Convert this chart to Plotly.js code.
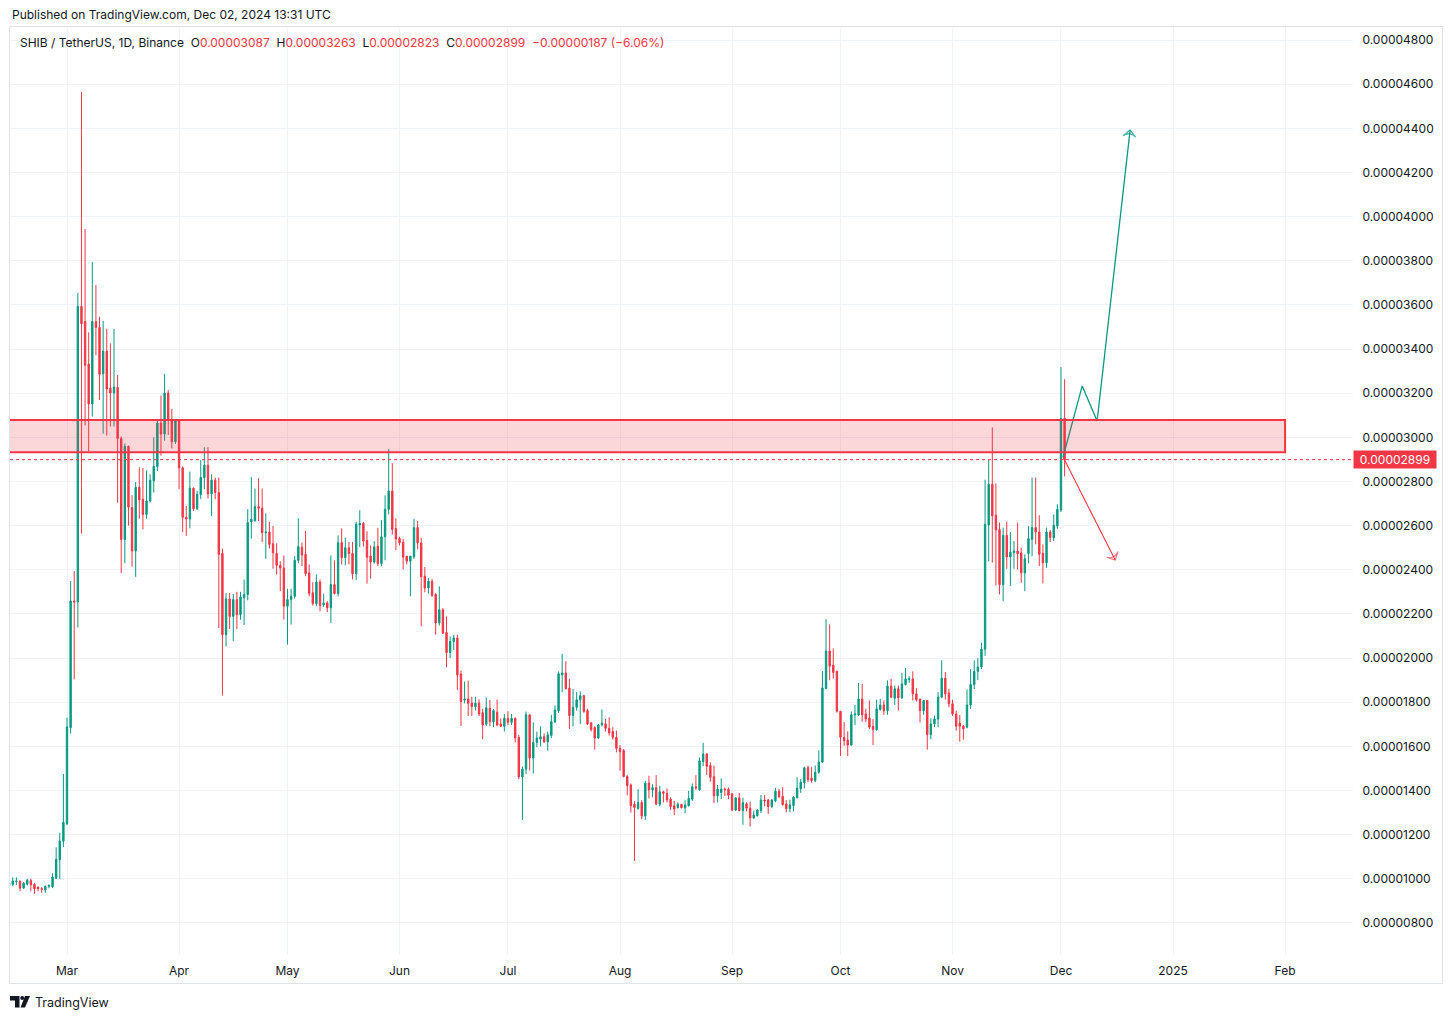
<!DOCTYPE html>
<html>
<head>
<meta charset="utf-8">
<script src="https://cdn.plot.ly/plotly-3.0.1.min.js"></script>
<style>
html,body{margin:0;padding:0;background:#ffffff;}
#chart{width:1453px;height:1019px;}
</style>
</head>
<body>
<div id="chart"></div>
<script>
// SHIB/USDT daily candles, values in units of 0.00000001 USDT, first candle 2024-02-14
const firstDay = [2024, 1, 14]; // year, month index, day (UTC)

const opens = [
  970,975,988,990,958,976,992,975,962,956,950,966,964,1003,1087,1171,
  1250,1685,2259,2254,3593,3525,3332,3151,3525,3498,3288,3390,3223,3201,3226,2995,2537,2959,2682,2485,2773,2720,2651,2712,2803,2868,3065,3015,3201,3076,2980,
  3076,2862,2638,2630,2770,2677,2740,2818,2874,2744,2806,2750,2474,2106,2268,2189,2265,2197,2273,2288,2617,2621,2686,2679,2568,2571,2518,2474,2420,2408,
  2235,2265,2280,2443,2502,2470,2386,2296,2247,2345,2241,2250,2228,2333,2293,2523,2455,2500,2474,2382,2603,2610,2533,2462,2435,2507,2428,2550,2674,2757,2587,
  2542,2525,2462,2439,2459,2591,2522,2371,2318,2348,2288,2159,2219,2116,2025,2075,2091,1928,1810,1815,1797,1780,1796,1753,1700,1773,1712,1755,1702,1691,
  1727,1709,1727,1641,1462,1497,1743,1547,1618,1633,1644,1621,1649,1712,1762,1924,1933,1864,1740,1777,1811,1830,1762,1706,1685,1638,1697,1702,1682,1667,1641,
  1591,1581,1464,1425,1338,1319,1346,1285,1434,1403,1413,1338,1394,1388,1361,1331,1323,1338,1322,1331,1361,1417,1403,1531,1566,1513,1463,1376,1391,1406,1406,
  1385,1312,1367,1309,1340,1320,1276,1286,1309,1357,1357,1327,1354,1397,1374,1339,1317,1332,1367,1408,1435,1503,1456,1445,1483,1529,1862,2032,1968,1941,
  1759,1641,1629,1606,1743,1743,1815,1747,1729,1691,1676,1767,1788,1762,1873,1818,1861,1820,1880,1903,1906,1838,1815,1762,1808,1653,1702,1724,1823,1909,1842,
  1793,1747,1706,1691,1687,1788,1880,1940,1960,2040,2603,2788,2647,2583,2333,2556,2458,2477,2485,2477,2386,2474,2538,2591,2571,2474,2432,2571,2545,2598,
  2671,3087
];
const highs = [
  994,1007,1007,992,985,1000,1000,980,966,962,970,975,1025,1143,1209,1475,
  1730,2349,2394,3654,4564,3944,3476,3794,3690,3546,3528,3492,3426,3492,3282,3004,2972,2963,2738,2798,2864,2861,2851,2833,3000,3080,3189,3288,3215,3129,3083,
  3083,2868,2689,2845,2773,2758,2897,2955,2955,2833,2818,2818,2495,2295,2295,2291,2300,2300,2356,2674,2820,2768,2814,2768,2656,2617,2598,2520,2439,2465,
  2314,2314,2462,2633,2523,2576,2424,2344,2379,2356,2292,2258,2465,2443,2556,2588,2546,2526,2526,2617,2670,2617,2575,2510,2530,2590,2625,2737,2947,2883,2633,
  2550,2540,2462,2462,2631,2621,2545,2413,2363,2359,2295,2325,2227,2189,2098,2106,2106,1944,1894,1898,1825,1825,1813,1770,1821,1811,1770,1812,1727,1746,
  1759,1747,1732,1652,1509,1758,1743,1709,1667,1690,1659,1667,1743,1785,1940,2020,1986,1906,1861,1846,1849,1833,1770,1712,1691,1702,1767,1724,1732,1687,1672,
  1606,1588,1470,1432,1353,1406,1356,1444,1467,1429,1470,1422,1399,1410,1369,1353,1346,1338,1356,1399,1432,1470,1550,1616,1569,1528,1513,1425,1455,1414,1414,
  1388,1367,1389,1367,1347,1350,1309,1317,1380,1380,1362,1362,1412,1408,1415,1357,1359,1374,1460,1453,1509,1514,1506,1514,1582,1941,2176,2153,2044,1941,
  1759,1710,1668,1758,1788,1888,1883,1770,1808,1724,1812,1815,1808,1899,1906,1876,1876,1933,1955,1918,1940,1864,1815,1808,1811,1727,1740,1846,1990,1937,1861,
  1812,1762,1743,1697,1858,1950,1990,2000,2070,2808,2899,3045,2792,2614,2591,2618,2571,2530,2614,2500,2470,2598,2818,2818,2647,2515,2591,2580,2651,2697,
  3318,3263
];
const lows = [
  950,966,972,944,955,970,944,932,944,937,937,957,958,999,1000,1144,
  1244,1658,1904,2139,2564,3054,2938,3094,3372,3169,3017,3008,3049,3049,2704,2385,2430,2600,2414,2368,2632,2583,2632,2705,2750,2848,2917,2985,3011,2950,2970,
  2765,2571,2553,2588,2667,2671,2720,2765,2723,2644,2720,2136,1830,2053,2132,2076,2132,2174,2150,2262,2541,2621,2621,2526,2450,2496,2405,2379,2303,2174,
  2061,2152,2270,2429,2417,2371,2280,2238,2235,2212,2232,2208,2159,2288,2280,2424,2420,2424,2356,2353,2503,2505,2337,2360,2428,2416,2416,2443,2651,2560,2489,
  2510,2401,2424,2280,2450,2492,2144,2298,2292,2277,2106,2147,2109,1959,2000,2037,1856,1692,1795,1738,1738,1762,1738,1633,1692,1691,1687,1691,1690,1667,
  1697,1697,1618,1452,1267,1474,1490,1477,1596,1600,1615,1580,1637,1706,1752,1846,1858,1679,1691,1762,1702,1752,1697,1667,1585,1633,1691,1667,1649,1631,1573,
  1490,1460,1379,1300,1081,1313,1270,1267,1364,1369,1335,1328,1346,1346,1313,1288,1319,1319,1297,1328,1353,1403,1399,1510,1470,1440,1343,1346,1361,1376,1361,
  1306,1308,1306,1245,1306,1236,1271,1283,1298,1329,1294,1321,1347,1365,1332,1301,1301,1306,1367,1389,1410,1438,1435,1438,1476,1526,1859,1900,1907,1753,
  1556,1603,1555,1603,1697,1737,1712,1709,1679,1606,1671,1762,1743,1743,1818,1788,1762,1815,1876,1888,1808,1803,1709,1743,1585,1633,1687,1687,1818,1812,1777,
  1737,1671,1621,1630,1682,1770,1860,1900,1950,2010,2439,2432,2329,2288,2258,2405,2326,2405,2402,2341,2303,2429,2462,2515,2417,2338,2409,2526,2530,2586,
  2662,2823
];
const closes = [
  980,990,990,958,980,994,973,955,955,952,966,970,1008,1089,1171,1256,
  1688,2259,2254,3593,3515,3327,3151,3525,3498,3286,3390,3219,3201,3228,2995,2537,2959,2684,2485,2773,2717,2651,2712,2806,2868,3065,3015,3201,3076,2980,3076,
  2862,2638,2630,2770,2677,2742,2818,2874,2744,2806,2750,2470,2106,2268,2189,2265,2197,2277,2288,2614,2629,2686,2679,2568,2571,2515,2477,2420,2408,2235,
  2265,2280,2443,2505,2467,2383,2293,2247,2345,2238,2250,2228,2333,2293,2523,2455,2500,2474,2382,2606,2610,2530,2457,2435,2504,2428,2550,2674,2757,2583,2540,
  2522,2457,2439,2462,2591,2522,2368,2318,2348,2285,2159,2219,2113,2025,2075,2091,1924,1803,1815,1795,1780,1796,1747,1697,1775,1712,1762,1697,1691,1727,
  1709,1727,1638,1462,1497,1743,1547,1618,1638,1644,1621,1652,1712,1765,1929,1933,1861,1740,1777,1811,1830,1758,1702,1676,1638,1697,1706,1682,1661,1641,1591,
  1576,1464,1422,1331,1323,1346,1285,1434,1403,1413,1338,1394,1388,1358,1328,1316,1338,1322,1334,1364,1417,1412,1535,1566,1510,1460,1376,1406,1406,1403,1379,
  1312,1367,1309,1345,1320,1276,1289,1312,1357,1353,1327,1357,1397,1373,1336,1317,1335,1370,1411,1438,1503,1450,1445,1483,1529,1865,2032,1963,1935,1759,
  1642,1626,1606,1743,1747,1815,1743,1724,1687,1676,1770,1788,1762,1873,1823,1861,1820,1883,1906,1906,1838,1812,1762,1808,1653,1702,1724,1823,1909,1838,1793,
  1747,1691,1691,1680,1788,1880,1940,1960,2040,2606,2788,2644,2580,2333,2556,2458,2480,2485,2473,2386,2450,2541,2591,2571,2470,2432,2571,2545,2602,2674,
  3086,2899
];

// axis ticks
const monthTickDates = ['2024-03-01','2024-04-01','2024-05-01','2024-06-01','2024-07-01','2024-08-01','2024-09-01','2024-10-01','2024-11-01','2024-12-01','2025-01-01','2025-02-01'];
const monthTickLabels = ['Mar','Apr','May','Jun','Jul','Aug','Sep','Oct','Nov','Dec','2025','Feb'];
const priceTicks = [800,1000,1200,1400,1600,1800,2000,2200,2400,2600,2800,3000,3200,3400,3600,3800,4000,4200,4400,4600,4800];

// drawn zone and projection arrows (price units 1e-8)
const zoneStart = '2024-02-01', zoneEnd = '2025-02-01';
const zoneLow = 2932, zoneHigh = 3079;
const upPathDates = ['2024-12-01 14:00','2024-12-06 21:00','2024-12-11 00:00','2024-12-20 03:00'];
const upPathPrices = [2911, 3233, 3074, 4392];
const downPathDates = ['2024-12-01 14:00','2024-12-16 00:00'];
const downPathPrices = [2911, 2444];

const U = 1e-8;
const GREEN = '#089981', RED = '#F23645', TXT = '#131722', GRID = '#f0f3fa', FRAME = '#e0e3eb';
const FONT = 'Inter, "Noto Sans", sans-serif';

const dates = opens.map((_, i) => new Date(Date.UTC(firstDay[0], firstDay[1], firstDay[2] + i)).toISOString().slice(0, 10));

const W = 1453, H = 1019;
const M = {l: 10, r: 100, t: 27, b: 64};
const PW = W - M.l - M.r, PH = H - M.t - M.b;
const px = x => (x - M.l) / PW;
const py = y => (H - M.b - y) / PH;
const fmt = v => (v * U).toFixed(8);

const n = closes.length;
const lastO = opens[n-1], lastH = highs[n-1], lastL = lows[n-1], lastC = closes[n-1];
const chg = lastC - closes[n-2];
const pct = chg / closes[n-2] * 100;
const minus = s => s.replace('-', '\u2212');
const red = s => '<span style="color:' + RED + '">' + s + '</span>';

const headerText = 'SHIB / TetherUS, 1D, Binance\u00a0\u00a0O' + red(fmt(lastO)) +
  '\u00a0\u00a0H' + red(fmt(lastH)) + '\u00a0\u00a0L' + red(fmt(lastL)) +
  '\u00a0\u00a0C' + red(fmt(lastC)) + '\u00a0\u00a0' +
  red(minus((chg * U).toFixed(8)) + ' (' + minus(pct.toFixed(2)) + '%)');

const traces = [
  {
    type: 'candlestick',
    x: dates,
    open: opens.map(v => v * U),
    high: highs.map(v => v * U),
    low: lows.map(v => v * U),
    close: closes.map(v => v * U),
    increasing: {line: {color: GREEN, width: 1}, fillcolor: GREEN},
    decreasing: {line: {color: RED, width: 1}, fillcolor: RED},
    whiskerwidth: 0,
    hoverinfo: 'skip',
    showlegend: false
  },
  {
    type: 'scatter', mode: 'lines+markers',
    x: upPathDates, y: upPathPrices.map(v => v * U),
    line: {color: GREEN, width: 1.3},
    marker: {symbol: 'arrow-wide-open', size: upPathPrices.map((_, i) => i === upPathPrices.length - 1 ? 9 : 0),
             angleref: 'previous', color: GREEN, line: {color: GREEN, width: 1.3}},
    hoverinfo: 'skip', showlegend: false
  },
  {
    type: 'scatter', mode: 'lines+markers',
    x: downPathDates, y: downPathPrices.map(v => v * U),
    line: {color: RED, width: 1.1},
    marker: {symbol: 'arrow-wide-open', size: downPathPrices.map((_, i) => i === downPathPrices.length - 1 ? 9 : 0),
             angleref: 'previous', color: RED, line: {color: RED, width: 1.1}},
    hoverinfo: 'skip', showlegend: false
  }
];

const logoPath1 = 'M' + px(10) + ',' + py(996) + ' L' + px(19.5) + ',' + py(996) + ' L' + px(19.5) + ',' + py(1007.5) +
  ' L' + px(15) + ',' + py(1007.5) + ' L' + px(15) + ',' + py(1000.5) + ' L' + px(10) + ',' + py(1000.5) + ' Z';
const logoPath2 = 'M' + px(25) + ',' + py(996) + ' L' + px(30) + ',' + py(996) + ' L' + px(25) + ',' + py(1007.5) +
  ' L' + px(20.5) + ',' + py(1007.5) + ' Z';

const layout = {
  width: W, height: H,
  margin: M,
  paper_bgcolor: '#ffffff', plot_bgcolor: '#ffffff',
  hovermode: false,
  showlegend: false,
  boxgap: 0.45,
  font: {family: FONT, color: TXT, size: 12},
  xaxis: {
    type: 'date',
    range: ['2024-02-14 05:30', '2025-02-19 19:00'],
    rangeslider: {visible: false},
    tickmode: 'array', tickvals: monthTickDates, ticktext: monthTickLabels,
    showgrid: true, gridcolor: GRID, gridwidth: 1,
    zeroline: false, showline: false,
    ticks: 'outside', ticklen: 5, tickcolor: 'rgba(0,0,0,0)',
    tickfont: {family: FONT, size: 12, color: TXT},
    fixedrange: true
  },
  yaxis: {
    side: 'right',
    range: [655 * U, 4859 * U],
    tickmode: 'array', tickvals: priceTicks.map(v => v * U), ticktext: priceTicks.map(fmt),
    showgrid: true, gridcolor: GRID, gridwidth: 1,
    zeroline: false, showline: false,
    ticks: 'outside', ticklen: 6, tickcolor: 'rgba(0,0,0,0)',
    tickfont: {family: FONT, size: 12, color: TXT},
    fixedrange: true
  },
  shapes: [
    // chart frame
    {type: 'line', xref: 'paper', yref: 'paper', x0: px(9), x1: px(1443), y0: py(26.5), y1: py(26.5), line: {color: FRAME, width: 1}},
    {type: 'line', xref: 'paper', yref: 'paper', x0: px(9.5), x1: px(9.5), y0: py(26.5), y1: py(983.5), line: {color: FRAME, width: 1}},
    {type: 'line', xref: 'paper', yref: 'paper', x0: px(9), x1: px(1443), y0: py(983.5), y1: py(983.5), line: {color: FRAME, width: 1}},
    {type: 'line', xref: 'paper', yref: 'paper', x0: px(1442.5), x1: px(1442.5), y0: py(26.5), y1: py(983.5), line: {color: FRAME, width: 1}},
    // resistance zone (drawn above candles, translucent)
    {type: 'rect', xref: 'x', yref: 'y', x0: zoneStart, x1: zoneEnd, y0: zoneLow * U, y1: zoneHigh * U,
     fillcolor: 'rgba(242,54,69,0.2)', line: {color: RED, width: 2}, layer: 'above'},
    // last price line
    {type: 'line', xref: 'paper', yref: 'y', x0: 0, x1: 1, y0: lastC * U, y1: lastC * U, line: {color: RED, width: 1, dash: 'dot'}},
    // TradingView logo
    {type: 'path', xref: 'paper', yref: 'paper', path: logoPath1, fillcolor: TXT, line: {width: 0}},
    {type: 'path', xref: 'paper', yref: 'paper', path: logoPath2, fillcolor: TXT, line: {width: 0}},
    {type: 'circle', xref: 'paper', yref: 'paper', x0: px(20.2), x1: px(24.2), y0: py(996), y1: py(1000), fillcolor: TXT, line: {width: 0}}
  ],
  annotations: [
    {xref: 'paper', yref: 'paper', x: px(10), y: py(15), xanchor: 'left', yanchor: 'middle', showarrow: false,
     text: 'Published on TradingView.com, Dec 02, 2024 13:31 UTC', font: {family: FONT, size: 12, color: TXT}},
    {xref: 'paper', yref: 'paper', x: px(18), y: py(42), xanchor: 'left', yanchor: 'middle', showarrow: false,
     text: headerText, font: {family: FONT, size: 12, color: TXT}},
    {xref: 'paper', yref: 'y', x: 1, y: lastC * U, xanchor: 'left', yanchor: 'middle', showarrow: false,
     text: fmt(lastC), bgcolor: RED, borderpad: 1, width: 80, height: 15, align: 'center',
     font: {family: FONT, size: 12, color: '#ffffff'}},
    {xref: 'paper', yref: 'paper', x: px(33), y: py(1002), xanchor: 'left', yanchor: 'middle', showarrow: false,
     text: 'TradingView', font: {family: FONT, size: 12.5, color: TXT}}
  ]
};

Plotly.newPlot('chart', traces, layout, {staticPlot: true, displayModeBar: false});
</script>
</body>
</html>
